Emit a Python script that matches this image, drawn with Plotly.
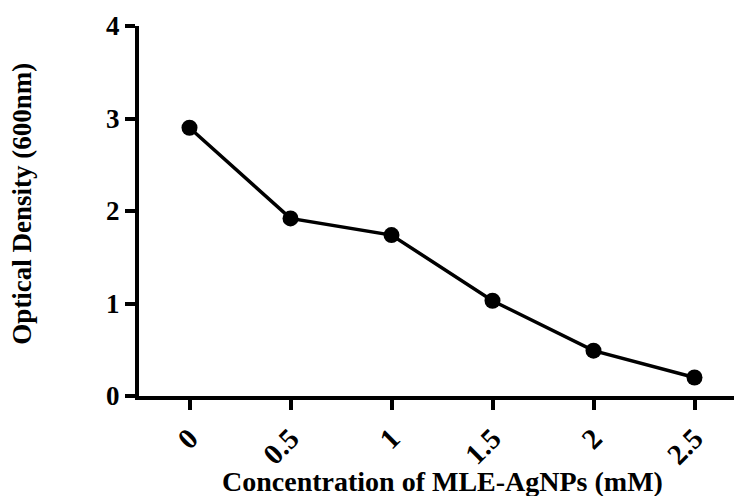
import plotly.graph_objects as go

categories = ["0", "0.5", "1", "1.5", "2", "2.5"]
optical_density = [2.90, 1.92, 1.74, 1.03, 0.49, 0.20]
y_ticks = [0, 1, 2, 3, 4]

FONT = "Liberation Serif, Times New Roman, serif"

fig = go.Figure()
fig.add_trace(go.Scatter(
    x=categories, y=optical_density, mode="lines+markers",
    line=dict(color="black", width=3.5),
    marker=dict(color="black", size=16),
    cliponaxis=False, showlegend=False,
))

fig.update_layout(
    width=742, height=496,
    margin=dict(l=131, r=5, t=18, b=108, autoexpand=False),
    paper_bgcolor="white", plot_bgcolor="white",
    xaxis=dict(
        type="category", range=[-0.5, 5.5], automargin=False,
        showline=True, linecolor="black", linewidth=4,
        ticks="outside", ticklen=10, tickwidth=4, tickcolor="black",
        tickangle=-45, showgrid=False, zeroline=False,
        ticklabeloverflow="allow",
        tickfont=dict(family=FONT, size=29, color="black", weight="bold"),
    ),
    yaxis=dict(
        range=[0, 4], tickvals=y_ticks, automargin=False,
        showline=True, linecolor="black", linewidth=4,
        ticks="outside", ticklen=10, tickwidth=4, tickcolor="black",
        showgrid=False, zeroline=False,
        ticklabeloverflow="allow",
        tickfont=dict(family=FONT, size=27, color="black", weight="bold"),
    ),
    annotations=[
        dict(text="Concentration of MLE-AgNPs (mM)", xref="paper", yref="paper",
             x=0.5, y=-0.232, xanchor="center", yanchor="middle", showarrow=False,
             font=dict(family=FONT, size=28, color="black", weight="bold")),
        dict(text="Optical Density (600nm)", xref="paper", yref="paper",
             x=-0.193, y=0.52, xanchor="center", yanchor="middle", showarrow=False,
             textangle=-90,
             font=dict(family=FONT, size=27, color="black", weight="bold")),
    ],
)

fig.write_html("out.html")
